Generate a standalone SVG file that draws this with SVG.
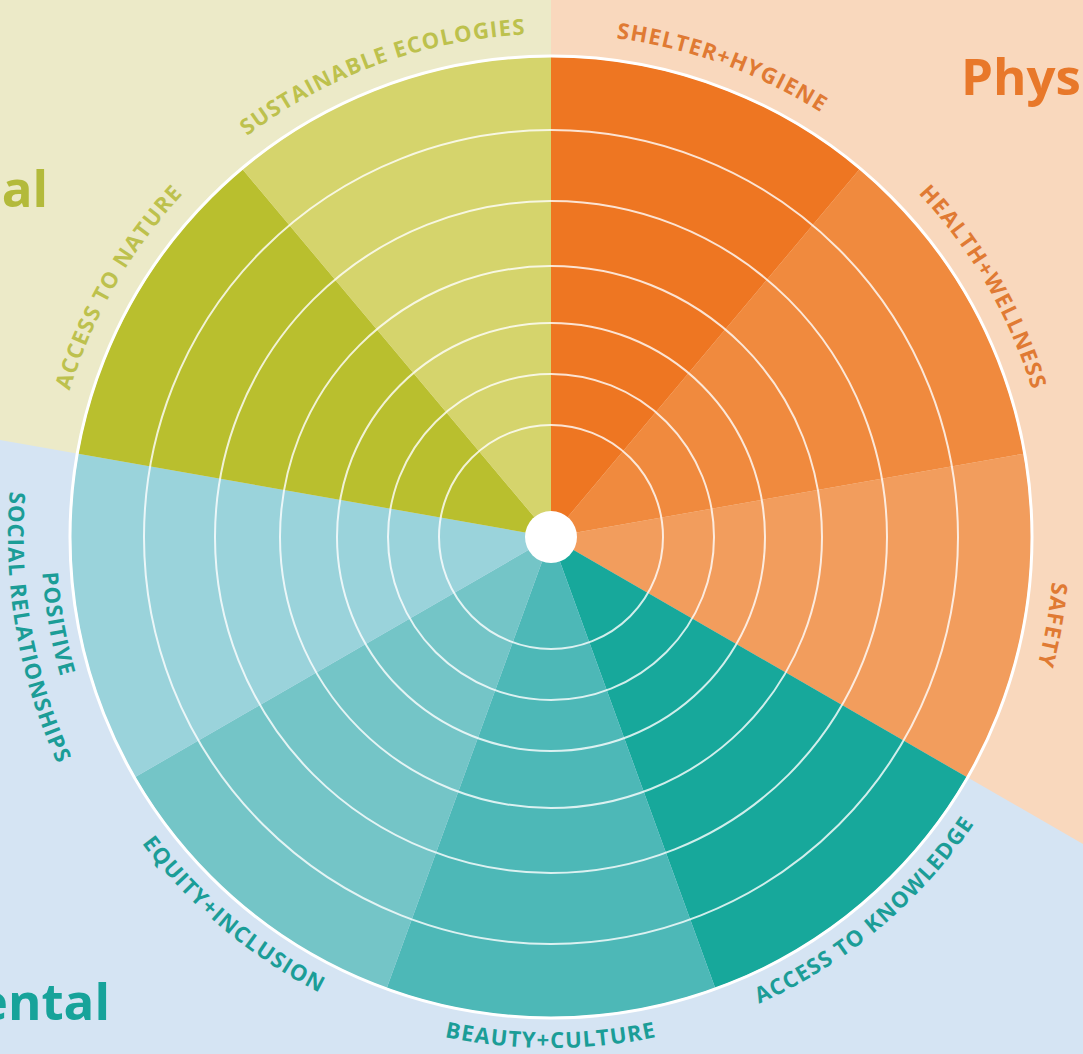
<svg xmlns="http://www.w3.org/2000/svg" xmlns:xlink="http://www.w3.org/1999/xlink" width="1083" height="1054" viewBox="0 0 1083 1054">
  <style>
    .lbl { font-family: "Open Sans", "Liberation Sans", sans-serif; font-weight: 700; font-size: 22px; letter-spacing: 1.2px; }
    .big { font-family: "Open Sans", "Liberation Sans", sans-serif; font-weight: 700; font-size: 51px; }
    .ring { fill: none; stroke: #ffffff; stroke-opacity: 0.8; stroke-width: 2; }
    .olive { fill: #bdc14d; }
    .orange { fill: #e07a33; }
    .teal { fill: #1b9d97; }
  </style>
  <defs>
    <!-- label arcs: clockwise on the upper half, counter-clockwise on the lower half -->
    <path id="arc-shelter" d="M 420.8 51.1 A 503 503 0 0 1 963.0 248.5"/>
    <path id="arc-health" d="M 763.6 81.1 A 503 503 0 0 1 1052.1 580.8"/>
    <path id="arc-safety" d="M 1006.9 324.4 A 503 503 0 0 1 906.7 892.7"/>
    <path id="arc-sustain" d="M 139.0 248.5 A 503 503 0 0 1 681.2 51.1"/>
    <path id="arc-nature" d="M 49.9 580.8 A 503 503 0 0 1 338.4 81.1"/>
    <path id="arc-knowledge" d="M 595.6 1046.1 A 511 511 0 0 0 1044.6 669.3"/>
    <path id="arc-beauty" d="M 257.9 955.6 A 511 511 0 0 0 844.1 955.6"/>
    <path id="arc-equity" d="M 57.4 669.3 A 511 511 0 0 0 506.4 1046.1"/>
    <path id="arc-positive" d="M 88.8 321.4 A 510 510 0 0 0 190.4 897.6"/>
    <path id="arc-social" d="M 58.9 307.5 A 543 543 0 0 0 167.0 921.0"/>
  </defs>

  <!-- background quadrants -->
  <g id="background">
    <rect x="0" y="0" width="1083" height="1054" fill="#d5e4f3"/>
    <polygon points="0,0 551,0 551,537 0,440" fill="#eceac8"/>
    <polygon points="551,0 1083,0 1083,844 551,537" fill="#f9d8bd"/>
  </g>

  <!-- category titles -->
  <text class="big" x="48" y="207" text-anchor="end" fill="#b3ba3b">al</text>
  <text class="big" x="961" y="95" fill="#e8782a">Phys</text>
  <text class="big" x="110" y="1020" text-anchor="end" fill="#17a39a">ental</text>

  <!-- wheel segments -->
  <g id="seg-shelter">
    <path d="M 551 537 L 551 57 A 480 480 0 0 1 859.5 169.3 Z" fill="#ee7622"/>
    <text class="lbl orange"><textPath xlink:href="#arc-shelter" startOffset="50%" text-anchor="middle">SHELTER+HYGIENE</textPath></text>
  </g>
  <g id="seg-health">
    <path d="M 551 537 L 859.5 169.3 A 480 480 0 0 1 1023.7 453.7 Z" fill="#f08a3e"/>
    <text class="lbl orange"><textPath xlink:href="#arc-health" startOffset="50%" text-anchor="middle">HEALTH+WELLNESS</textPath></text>
  </g>
  <g id="seg-safety">
    <path d="M 551 537 L 1023.7 453.7 A 480 480 0 0 1 966.7 777 Z" fill="#f29d5d"/>
    <text class="lbl orange"><textPath xlink:href="#arc-safety" startOffset="50%" text-anchor="middle">SAFETY</textPath></text>
  </g>
  <g id="seg-knowledge">
    <path d="M 551 537 L 966.7 777 A 480 480 0 0 1 715.2 988.1 Z" fill="#17a89b"/>
    <text class="lbl teal"><textPath xlink:href="#arc-knowledge" startOffset="50%" text-anchor="middle">ACCESS TO KNOWLEDGE</textPath></text>
  </g>
  <g id="seg-beauty">
    <path d="M 551 537 L 715.2 988.1 A 480 480 0 0 1 386.8 988.1 Z" fill="#4db8b7"/>
    <text class="lbl teal"><textPath xlink:href="#arc-beauty" startOffset="50%" text-anchor="middle">BEAUTY+CULTURE</textPath></text>
  </g>
  <g id="seg-equity">
    <path d="M 551 537 L 386.8 988.1 A 480 480 0 0 1 135.3 777 Z" fill="#74c5c7"/>
    <text class="lbl teal"><textPath xlink:href="#arc-equity" startOffset="50%" text-anchor="middle">EQUITY+INCLUSION</textPath></text>
  </g>
  <g id="seg-social">
    <path d="M 551 537 L 135.3 777 A 480 480 0 0 1 78.3 453.7 Z" fill="#9ad3db"/>
    <text class="lbl teal"><textPath xlink:href="#arc-positive" startOffset="50%" text-anchor="middle">POSITIVE</textPath></text>
    <text class="lbl teal"><textPath xlink:href="#arc-social" startOffset="50%" text-anchor="middle">SOCIAL RELATIONSHIPS</textPath></text>
  </g>
  <g id="seg-nature">
    <path d="M 551 537 L 78.3 453.7 A 480 480 0 0 1 242.5 169.3 Z" fill="#b9bf2e"/>
    <text class="lbl olive"><textPath xlink:href="#arc-nature" startOffset="50%" text-anchor="middle">ACCESS TO NATURE</textPath></text>
  </g>
  <g id="seg-ecologies">
    <path d="M 551 537 L 242.5 169.3 A 480 480 0 0 1 551 57 Z" fill="#d5d46c"/>
    <text class="lbl olive"><textPath xlink:href="#arc-sustain" startOffset="50%" text-anchor="middle">SUSTAINABLE ECOLOGIES</textPath></text>
  </g>

  <!-- concentric score rings, rim and hub -->
  <g id="rings">
    <circle class="ring" cx="551" cy="537" r="407"/>
    <circle class="ring" cx="551" cy="537" r="336"/>
    <circle class="ring" cx="551" cy="537" r="271"/>
    <circle class="ring" cx="551" cy="537" r="214"/>
    <circle class="ring" cx="551" cy="537" r="163"/>
    <circle class="ring" cx="551" cy="537" r="112"/>
    <circle cx="551" cy="537" r="481" fill="none" stroke="#ffffff" stroke-width="3"/>
    <circle cx="551" cy="537" r="26" fill="#ffffff"/>
  </g>
</svg>
